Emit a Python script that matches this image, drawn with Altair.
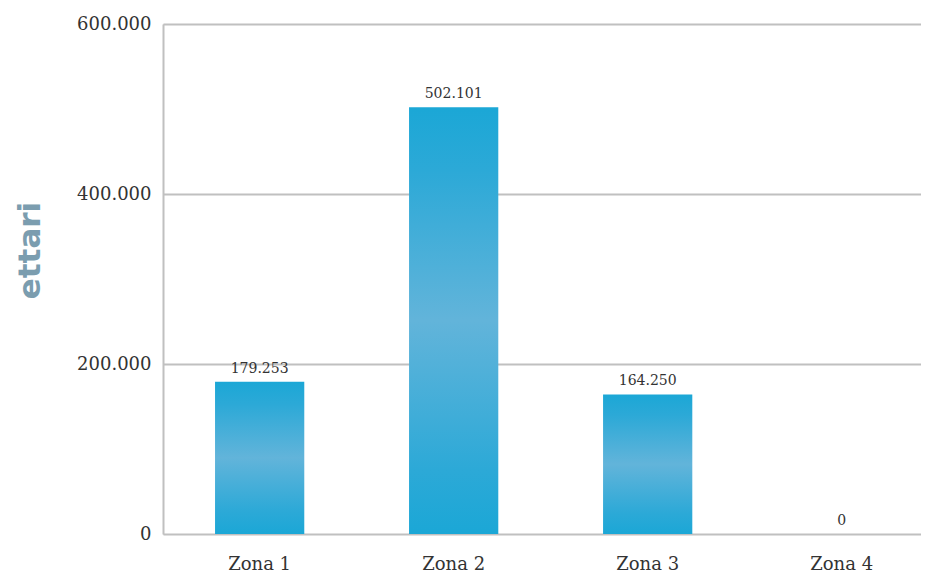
import altair as alt
import pandas as pd

zones = ["Zona 1", "Zona 2", "Zona 3", "Zona 4"]
hectares = [179253, 502101, 164250, 0]
y_ticks = [0, 200000, 400000, 600000]

df = pd.DataFrame({"zona": zones, "ettari": hectares})

grad = alt.Gradient(
    gradient="linear",
    x1=0, x2=0, y1=0, y2=1,
    stops=[
        alt.GradientStop(color="#1BA7D6", offset=0),
        alt.GradientStop(color="#2CA9D7", offset=0.15),
        alt.GradientStop(color="#62B4DA", offset=0.5),
        alt.GradientStop(color="#2CA9D7", offset=0.85),
        alt.GradientStop(color="#1BA7D6", offset=1),
    ],
)

FONT = "DejaVu Serif"

x = alt.X(
    "zona:N",
    sort=zones,
    scale=alt.Scale(paddingInner=0.54, paddingOuter=0.2235, align=0.6),
    axis=alt.Axis(
        title=None,
        labelAngle=0,
        labelFont=FONT,
        labelFontSize=18,
        labelColor="#333333",
        labelPadding=21,
        ticks=False,
        domain=False,
    ),
)
y = alt.Y(
    "ettari:Q",
    scale=alt.Scale(domain=[0, 600000], nice=False),
    axis=alt.Axis(
        title="ettari",
        titleFont="DejaVu Sans",
        titleFontWeight="bold",
        titleFontSize=31,
        titleColor="#7B9DAF",
        titleAngle=270,
        titleX=-133,
        titleY=226,
        titleAlign="center",
        titleBaseline="middle",
        values=y_ticks,
        labelExpr="replace(format(datum.value, ',d'), ',', '.')",
        labelFont=FONT,
        labelFontSize=18,
        labelColor="#333333",
        labelPadding=12,
        ticks=False,
        domain=True,
        domainColor="#C0C0C0",
        domainWidth=2,
        grid=True,
        gridColor="#C0C0C0",
        gridWidth=2,
    ),
)

bars = alt.Chart(df).mark_bar(color=grad).encode(x=x, y=y)

labels = alt.Chart(df).transform_calculate(
    lbl="replace(format(datum.ettari, ',d'), ',', '.')"
).mark_text(
    font=FONT, fontSize=14, color="#333333", baseline="bottom", dy=-6
).encode(x=alt.X("zona:N", sort=zones), y=alt.Y("ettari:Q"), text="lbl:N")

chart = (
    alt.layer(bars, labels)
    .properties(
        width=758,
        height=510,
        padding={"left": 155, "top": 16, "right": 0, "bottom": 44},
        autosize=alt.AutoSizeParams(type="none"),
    )
    .configure_view(stroke=None)
    .configure(background="white")
)

chart.save("out.html", embed_options={"renderer": "svg", "actions": False})
